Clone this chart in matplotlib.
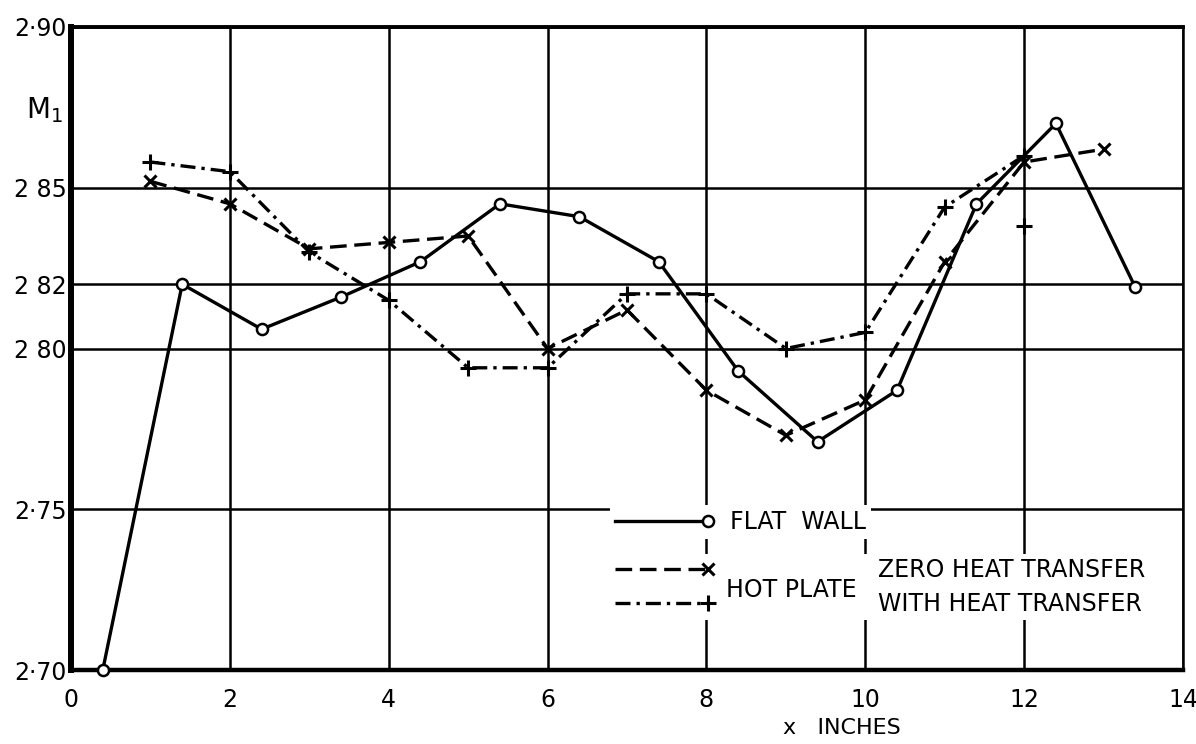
import matplotlib
matplotlib.use('Agg')
import matplotlib.pyplot as plt
from matplotlib.legend_handler import HandlerLine2DCompound

# Mach number M1 along the plate, x in inches
flat_x = [0.4, 1.4, 2.4, 3.4, 4.4, 5.4, 6.4, 7.4, 8.4, 9.4, 10.4, 11.4, 12.4, 13.4]
flat_m = [2.700, 2.820, 2.806, 2.816, 2.827, 2.845, 2.841, 2.827, 2.793, 2.771, 2.787, 2.845, 2.870, 2.819]

zero_x = [1, 2, 3, 4, 5, 6, 7, 8, 9, 10, 11, 12, 13]
zero_m = [2.852, 2.845, 2.831, 2.833, 2.835, 2.800, 2.812, 2.787, 2.773, 2.784, 2.827, 2.858, 2.862]

heat_x = [1, 2, 3, 4, 5, 6, 7, 8, 9, 10, 11, 12]
heat_m = [2.858, 2.855, 2.830, 2.815, 2.794, 2.794, 2.817, 2.817, 2.800, 2.805, 2.844, 2.860]

# lone + at x = 12, not joined to the curve
stray_x = [12]
stray_m = [2.838]

x_ticks = [0, 2, 4, 6, 8, 10, 12, 14]
y_ticks = [2.70, 2.75, 2.80, 2.82, 2.85, 2.90]
y_labels = ['2·70', '2·75', '2 80', '2 82', '2 85', '2·90']


class EndMarker(HandlerLine2DCompound):
    # legend sample: line first, marker at its right end
    def get_xdata(self, legend, xdescent, ydescent, width, height, fontsize):
        return [-xdescent, -xdescent + width], [-xdescent + width]


plt.rcParams['font.family'] = ['DejaVu Sans']

fig = plt.figure(figsize=(11.96, 7.44), dpi=100)
ax = fig.add_axes([71 / 1196, 74 / 744, 1112 / 1196, 643 / 744])

lw = 2.4
h_flat, = ax.plot(flat_x, flat_m, color='black', lw=lw, marker='o', ms=8,
                  mfc='white', mec='black', mew=1.8, clip_on=False, zorder=4)
h_zero, = ax.plot(zero_x, zero_m, color='black', lw=lw, ls=(0, (5, 2.3)),
                  marker='x', ms=9, mew=2.2, clip_on=False, zorder=3)
h_heat, = ax.plot(heat_x, heat_m, color='black', lw=lw, ls=(0, (4.5, 1.8, 1, 1.8)),
                  marker='+', ms=11, mew=2.2, clip_on=False, zorder=3)
ax.plot(stray_x, stray_m, ls='none', color='black', marker='+', ms=11, mew=2.2, zorder=3)

ax.set_xlim(0, 14)
ax.set_ylim(2.70, 2.90)
ax.set_xticks(x_ticks)
ax.set_xticklabels([str(t) for t in x_ticks])
ax.set_yticks(y_ticks)
ax.set_yticklabels(y_labels)
ax.tick_params(axis='both', length=0, labelsize=17)
ax.tick_params(axis='x', pad=13)
ax.tick_params(axis='y', pad=3)

ax.grid(True, color='black', lw=1.8)
ax.set_axisbelow(True)

ax.spines['left'].set_linewidth(4.3)
ax.spines['bottom'].set_linewidth(3.2)
ax.spines['top'].set_linewidth(2.8)
ax.spines['right'].set_linewidth(1.8)

ax.set_xlabel('x   INCHES', fontsize=16)
ax.xaxis.set_label_coords(0.693, -0.075)
fig.text(26 / 1196, 1 - 118 / 744, r'M$_\mathregular{1}$', fontsize=20, va='baseline')

fs_leg = 17
common = dict(loc='center left', borderaxespad=0, borderpad=0.2, fontsize=fs_leg,
              handlelength=3.95, frameon=True, fancybox=False, framealpha=1,
              handler_map={h_flat: EndMarker(), h_zero: EndMarker(), h_heat: EndMarker()})

leg1 = ax.legend([h_flat], ['FLAT  WALL'], bbox_to_anchor=(0.485, 0.230),
                 handletextpad=0.93, **common)
leg1.get_frame().set_edgecolor('none')
leg1.set_zorder(6)
ax.add_artist(leg1)

leg2 = ax.legend([h_zero, h_heat], ['ZERO HEAT TRANSFER', 'WITH HEAT TRANSFER'],
                 bbox_to_anchor=(0.485, 0.129), handletextpad=7.2,
                 labelspacing=0.4, **common)
leg2.get_frame().set_edgecolor('none')
leg2.set_zorder(6)

ax.text(0.589, 0.124, 'HOT PLATE', transform=ax.transAxes, fontsize=fs_leg,
        ha='left', va='center', zorder=7)

fig.savefig('out.png', dpi=100)
